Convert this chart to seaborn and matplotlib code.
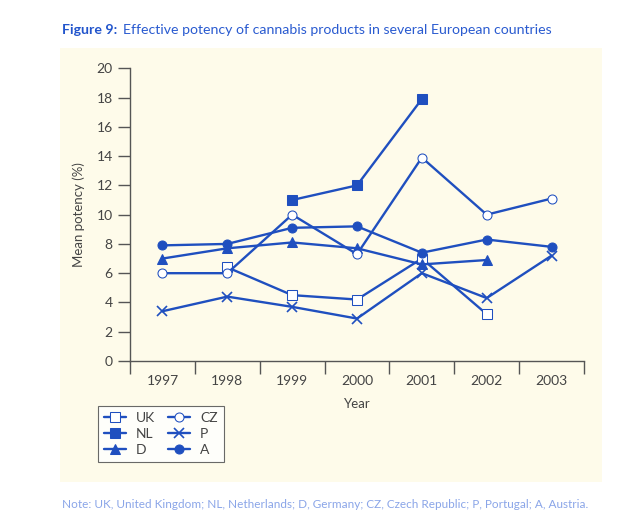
import pandas as pd
import matplotlib.pyplot as plt
import seaborn as sns
import numpy as np
from matplotlib.patches import Rectangle

# Daten
years = ['1997', '1998', '1999', '2000', '2001', '2002', '2003']
uk = [np.nan, 6.4, 4.5, 4.2, 7.0, 3.2, np.nan]
nl = [np.nan, np.nan, 11.0, 12.0, 17.9, np.nan, np.nan]
d = [7.0, 7.7, 8.1, 7.7, 6.6, 6.9, np.nan]
cz = [6.0, 6.0, 10.0, 7.3, 13.9, 10.0, 11.1]
p = [3.4, 4.4, 3.7, 2.9, 6.0, 4.3, 7.2]
a = [7.9, 8.0, 9.1, 9.2, 7.4, 8.3, 7.8]

series = {'UK': uk, 'NL': nl, 'D': d, 'CZ': cz, 'P': p, 'A': a}
rows = []
for name, vals in series.items():
    for i, v in enumerate(vals):
        rows.append({'country': name, 'pos': i, 'value': v})
df = pd.DataFrame(rows).dropna()

blue = '#1f4fbf'
cream = '#fefbea'

sns.set_style('ticks')
plt.rcParams['font.family'] = ['Lato', 'DejaVu Sans']

fig = plt.figure(figsize=(6.23, 5.28), dpi=100)
fig.patches.append(Rectangle((60 / 623, 1 - 482 / 528), 542 / 623, 434 / 528,
                             transform=fig.transFigure, facecolor=cream,
                             edgecolor='none', zorder=-1))
ax = fig.add_axes([130 / 623, 1 - 361 / 528, 454 / 623, 292.7 / 528])
ax.set_facecolor('none')

styles = {
    'UK': dict(marker='s', markerfacecolor='white', markeredgecolor=blue, markersize=6.5),
    'NL': dict(marker='s', markerfacecolor=blue, markeredgecolor=blue, markersize=6.5),
    'D': dict(marker='^', markerfacecolor=blue, markeredgecolor=blue, markersize=6.5),
    'CZ': dict(marker='o', markerfacecolor='white', markeredgecolor=blue, markersize=6.5),
    'P': dict(marker='x', markeredgecolor=blue, markersize=6.5, markeredgewidth=1.2),
    'A': dict(marker='o', markerfacecolor=blue, markeredgecolor=blue, markersize=6.5),
}

for name in series:
    sub = df[df['country'] == name]
    sns.lineplot(data=sub, x='pos', y='value', ax=ax, color=blue, linewidth=1.7,
                 label=name, **styles[name])

ax.set_xlim(-0.5, 6.5)
ax.set_ylim(0, 20)
ax.set_yticks(np.arange(0, 21, 2))
ax.set_xticks(np.arange(-0.5, 6.6, 1))
ax.set_xticklabels([])
ax.set_xticks(np.arange(0, 7), minor=True)
ax.set_xticklabels(years, minor=True)
ax.tick_params(axis='x', which='major', direction='out', length=9, color='#555555', width=1)
ax.tick_params(axis='x', which='minor', length=0, pad=10, labelsize=10, labelcolor='#444444')
ax.tick_params(axis='y', direction='out', length=9, color='#555555', width=1,
               labelsize=10, labelcolor='#444444')
sns.despine(ax=ax)
for s in ['left', 'bottom']:
    ax.spines[s].set_color('#555555')
    ax.spines[s].set_linewidth(1)

ax.set_xlabel('Year', fontsize=9.5, color='#444444', labelpad=8)
ax.set_ylabel('Mean potency (%)', fontsize=9.5, color='#444444', labelpad=8)

leg = ax.legend(ncol=2, loc='upper left', bbox_to_anchor=(98 / 623, 1 - 406 / 528),
                bbox_transform=fig.transFigure, borderaxespad=0, frameon=True,
                fancybox=False, fontsize=10, handlelength=1.6, columnspacing=0.9,
                labelspacing=0.28, borderpad=0.45, handletextpad=0.7)
leg.get_frame().set_edgecolor('#444444')
leg.get_frame().set_facecolor('white')
leg.get_frame().set_linewidth(0.8)
for t in leg.get_texts():
    t.set_color('#444444')

# Titel: fetter Teil und normaler Teil direkt dahinter
t1 = fig.text(62 / 623, 1 - 30 / 528, 'Figure 9:', fontsize=10.2, fontweight='bold',
              color='#2255cc', va='center')
fig.canvas.draw()
bb = t1.get_window_extent().transformed(fig.transFigure.inverted())
fig.text(bb.x1 + 6 / 623, 1 - 30 / 528,
         'Effective potency of cannabis products in several European countries',
         fontsize=10.2, color='#2a5bd0', va='center')
fig.text(62 / 623, 1 - 505 / 528,
         'Note: UK, United Kingdom; NL, Netherlands; D, Germany; CZ, Czech Republic; P, Portugal; A, Austria.',
         fontsize=8.5, color='#8aa5e8', va='center')

plt.savefig('out.png', dpi=100, facecolor='white')
